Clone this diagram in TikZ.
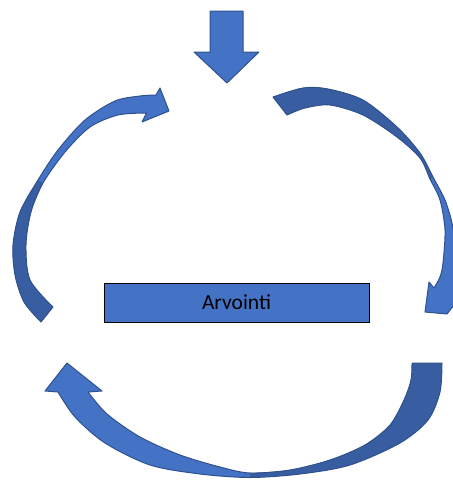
\documentclass[tikz,border=0pt]{standalone}
\usepackage{fontspec}
\setmainfont{Carlito}
\definecolor{light}{HTML}{4472C4}
\definecolor{darkface}{RGB}{56,93,160}
\definecolor{edge}{HTML}{2F528F}
\tikzset{
  face/.style={fill=light},
  backface/.style={fill=darkface},
  rim/.style={draw=edge, line width=1pt, line join=round},
  boxstyle/.style={draw=black, fill=light, line width=1pt, minimum width=265pt, minimum height=39pt, inner sep=0pt}
}
\def\arrA{plot[smooth] coordinates {(273,97) (303,88) (328,89) (363,100) (397,127) (420,153) (433,177) (445,200) (452,223) (456,250) (458,280) (458,300)} -- (447,314) -- (425,312) -- (429,282) -- plot[smooth] coordinates {(434,288) (440,277) (443,263) (445,230) (440,200) (430,179) (420,158) (397,137) (363,115) (330,105) (305,108) (287,115)} -- cycle}
\def\arrAback{plot[smooth] coordinates {(273,97) (303,88) (328,89) (363,100) (397,127) (420,153) (433,177)} -- plot[smooth] coordinates {(430,179) (420,158) (397,137) (363,115) (330,105) (305,108) (287,115)} -- cycle}
\def\arrB{plot[smooth] coordinates {(41,322) (24,302) (15,275) (13,245) (20,212) (38,180) (58,150) (85,120) (115,101) (140,96) (156,95)} -- (160,88) -- (169,111) -- (142,122) -- plot[smooth] coordinates {(146.5,113) (118,115) (90,127) (65,152) (43,183) (31,212) (26,245) (30,280) (53,307)} -- cycle}
\def\arrBback{plot[smooth] coordinates {(41,322) (24,302) (15,275) (13,245) (20,212) (38,180)} -- plot[smooth] coordinates {(43,183) (31,212) (26,245) (30,280) (53,307)} -- cycle}
\def\arrC{plot[smooth] coordinates {(442,363) (440,392) (428,420) (400,443) (350,465) (300,474) (250,477.5) (200,474) (150,465) (105,443) (75,417) (58,392)} -- (45,391) -- (67,363) -- (102,391) -- plot[smooth] coordinates {(88,392) (107,414) (140,437) (180,455) (220,467) (250,473) (290,470) (330,460) (365,445) (390,425) (404,400) (411,380) (412,363)} -- cycle}
\def\arrCback{plot[smooth] coordinates {(442,363) (440,392) (428,420) (400,443) (350,465) (300,474) (250,477.5)} -- plot[smooth] coordinates {(250,473) (290,470) (330,460) (365,445) (390,425) (404,400) (411,380) (412,363)} -- cycle}
\begin{document}
\begin{tikzpicture}[x=1pt,y=-1pt]
\useasboundingbox (0,0) rectangle (453,480);
% incoming arrow at the top
\filldraw[face, rim] (210,11) -- (243,11) -- (243,52) -- (259,52) -- (227,83) -- (194,52) -- (210,52) -- cycle;
% curved arrows
\fill[face] \arrA;
\fill[backface] \arrAback;
\draw[rim] \arrA;
\fill[face] \arrB;
\fill[backface] \arrBback;
\draw[rim] \arrB;
\fill[face] \arrC;
\fill[backface] \arrCback;
\draw[rim] \arrC;
% centre box
\node[boxstyle] (box) at (236.5,302.5) {\fontsize{21.5}{24}\selectfont Arvointi};
\end{tikzpicture}
\end{document}
